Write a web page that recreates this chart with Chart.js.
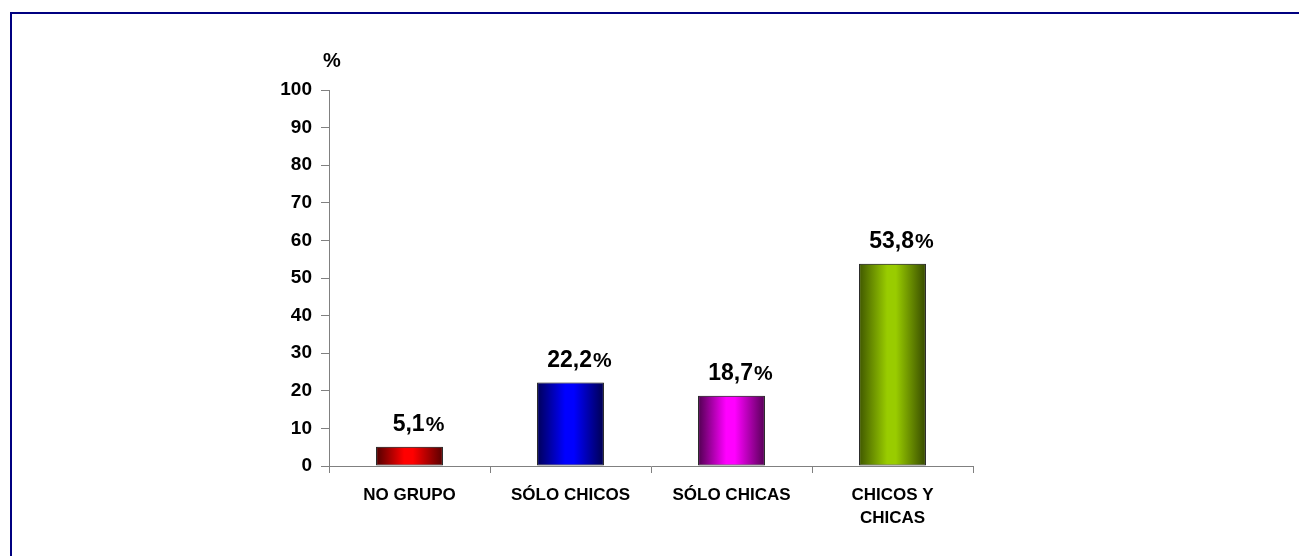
<!DOCTYPE html>
<html>
<head>
<meta charset="utf-8">
<script src="https://cdn.jsdelivr.net/npm/chart.js@4/dist/chart.umd.min.js"></script>
<style>
html,body{margin:0;padding:0;background:#fff;}
#wrap{position:absolute;left:0;top:0;width:1299px;height:556px;}
</style>
</head>
<body>
<div id="wrap"><canvas id="c" width="1299" height="556"></canvas></div>
<script>
const categories = [["NO GRUPO"], ["SÓLO CHICOS"], ["SÓLO CHICAS"], ["CHICOS Y", "CHICAS"]];
const values = [5.1, 22.2, 18.7, 53.8];
const valueLabels = ["5,1", "22,2", "18,7", "53,8"];
const yTicks = [0, 10, 20, 30, 40, 50, 60, 70, 80, 90, 100];
const barColors = [
  ["#500000", "#ff0000", "#580000"],
  ["#000058", "#0000ff", "#000050"],
  ["#500050", "#ff00ff", "#560056"],
  ["#405800", "#99cc00", "#364a00"]
];

const FONT = "'Liberation Sans', Arial, sans-serif";
const barFrac = 0.83 * 0.5;

function gradFor(ctx) {
  const chart = ctx.chart;
  const i = ctx.dataIndex;
  const xs = chart.scales.x;
  if (!xs || i === undefined || !chart.chartArea) return barColors[i || 0][1];
  const cx = xs.getPixelForValue(i);
  const cw = (xs.right - xs.left) / values.length;
  const w = cw * barFrac;
  const g = chart.ctx.createLinearGradient(cx - w / 2, 0, cx + w / 2, 0);
  const c = barColors[i];
  g.addColorStop(0, c[0]);
  g.addColorStop(0.42, c[1]);
  g.addColorStop(0.55, c[1]);
  g.addColorStop(1, c[2]);
  return g;
}

const decor = {
  id: 'decor',
  beforeDraw(chart) {
    const c = chart.ctx;
    c.save();
    c.fillStyle = '#fff';
    c.fillRect(0, 0, chart.width, chart.height);
    c.fillStyle = '#000080';
    c.fillRect(10, 12, chart.width - 10, 2);
    c.fillRect(10, 12, 2, chart.height - 12);
    c.restore();
  },
  afterDraw(chart) {
    const c = chart.ctx;
    const ys = chart.scales.y;
    c.save();
    c.fillStyle = '#000';
    c.font = "bold 20px " + FONT;
    c.textAlign = 'center';
    c.textBaseline = 'alphabetic';
    c.fillText('%', ys.right + 3, 67);
    const meta = chart.getDatasetMeta(0);
    meta.data.forEach((el, i) => {
      const num = valueLabels[i];
      const fNum = "bold 23px " + FONT;
      const fPct = "bold 21px " + FONT;
      c.font = fNum;
      const wn = c.measureText(num).width;
      c.font = fPct;
      const wp = c.measureText('%').width;
      const total = wn + wp + 1;
      const x0 = el.x - total / 2 + 9;
      const yb = el.y - 16;
      c.textAlign = 'left';
      c.font = fNum;
      c.fillText(num, x0, yb);
      c.font = fPct;
      c.fillText('%', x0 + wn + 1, yb);
    });
    c.restore();
  }
};

new Chart(document.getElementById('c'), {
  type: 'bar',
  data: {
    labels: categories,
    datasets: [{
      data: values,
      backgroundColor: gradFor,
      borderColor: '#000',
      borderWidth: 1,
      borderSkipped: false,
      barPercentage: 0.83,
      categoryPercentage: 0.5
    }]
  },
  options: {
    responsive: false,
    animation: false,
    devicePixelRatio: 1,
    layout: { padding: { left: 0, top: 90, right: 326, bottom: 0 } },
    plugins: { legend: { display: false }, tooltip: { enabled: false }, title: { display: false } },
    scales: {
      x: {
        grid: { display: true, drawOnChartArea: false, drawTicks: true, tickLength: 7, color: '#808080', offset: true },
        border: { display: true, color: '#808080', width: 1 },
        ticks: {
          color: '#000',
          font: { family: FONT, size: 17, weight: 'bold', lineHeight: 1.35 },
          padding: 11,
          maxRotation: 0,
          autoSkip: false
        },
        afterFit(s) { s.height = 90; }
      },
      y: {
        min: 0, max: 100,
        afterBuildTicks(s) { s.ticks = yTicks.map(v => ({ value: v })); },
        grid: { display: true, drawOnChartArea: false, drawTicks: true, tickLength: 8, color: '#808080' },
        border: { display: true, color: '#808080', width: 1 },
        ticks: {
          color: '#000',
          font: { family: FONT, size: 19, weight: 'bold' },
          padding: 9
        },
        afterFit(s) { s.width = 329; }
      }
    }
  },
  plugins: [decor]
});
</script>
</body>
</html>
